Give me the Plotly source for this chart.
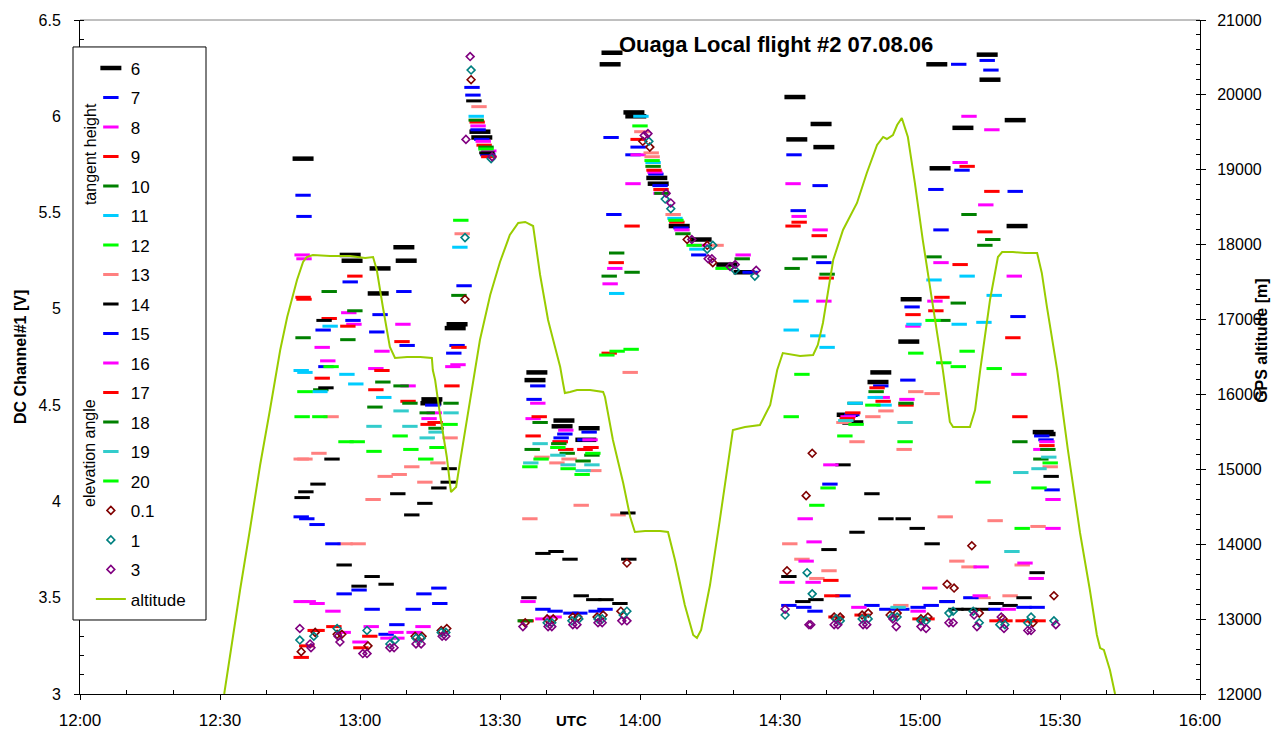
import plotly.graph_objects as go

# ---- time axis (minutes after 12:00 UTC) ----
tick_minutes = [0, 30, 60, 90, 120, 150, 180, 210, 240]
tick_labels = ["12:00", "12:30", "13:00", "13:30", "14:00", "14:30", "15:00", "15:30", "16:00"]

# ---- tangent height series (time [min after 12:00], DC Channel#1 [V]) ----
t_6 = [47.8, 57.9, 58.3, 63.9, 64.3, 69.4, 69.9, 75.2, 75.4, 80.4, 80.8, 85.7, 86.1, 97.5, 97.9, 103.3, 103.7, 108.4, 109.1, 113.6, 114.0, 118.7, 119.1, 123.6, 123.9, 128.4, 133.1, 138.6, 142.3, 153.2, 153.6, 158.8, 159.4, 164.4, 165.6, 171.0, 171.6, 177.6, 178.1, 183.6, 184.3, 189.2, 194.4, 195.0, 200.4, 200.8, 206.4, 206.8]
v_6 = [5.78, 5.28, 5.25, 5.08, 5.21, 5.32, 5.25, 4.51, 4.53, 4.90, 4.92, 5.92, 5.89, 4.63, 4.67, 4.39, 4.42, 4.32, 4.38, 6.27, 6.33, 6.02, 6.00, 5.68, 5.65, 5.43, 5.36, 5.23, 5.19, 6.10, 5.88, 5.96, 5.84, 4.45, 4.41, 4.62, 4.67, 4.83, 5.05, 6.27, 5.73, 5.94, 6.32, 6.19, 5.98, 5.43, 4.36, 4.35]

t_7 = [47.8, 48.0, 52.1, 52.7, 57.9, 58.5, 63.6, 64.3, 69.4, 70.1, 75.6, 80.1, 80.8, 82.3, 84.0, 84.2, 85.3, 86.1, 87.4, 97.3, 98.1, 113.8, 114.4, 118.5, 119.6, 123.4, 124.3, 128.8, 132.6, 143.6, 153.0, 153.9, 158.6, 159.4, 171.6, 177.4, 178.3, 183.4, 184.5, 188.3, 189.0, 194.4, 195.2, 200.4, 201.0]
v_7 = [5.59, 5.48, 4.89, 4.70, 5.14, 4.94, 4.88, 4.97, 5.09, 4.81, 4.50, 4.77, 4.81, 5.12, 6.15, 6.11, 5.93, 5.88, 5.80, 4.53, 4.60, 5.89, 5.49, 5.80, 5.84, 5.70, 5.64, 5.42, 5.28, 5.19, 5.80, 5.51, 5.64, 5.24, 4.60, 4.63, 5.01, 5.62, 5.41, 6.27, 5.72, 6.29, 6.24, 5.61, 4.96]

t_8 = [47.6, 48.0, 51.9, 53.1, 57.6, 58.7, 63.4, 64.7, 69.2, 70.3, 79.9, 81.0, 85.3, 86.4, 87.6, 98.1, 113.6, 114.6, 118.5, 119.6, 123.2, 124.5, 129.0, 132.9, 142.1, 152.8, 154.1, 158.6, 159.4, 171.9, 177.2, 178.5, 183.2, 184.5, 188.6, 190.5, 194.1, 195.4, 200.2, 201.2]
v_8 = [5.28, 5.26, 4.80, 4.73, 4.98, 4.92, 4.69, 4.78, 4.92, 4.60, 4.70, 4.71, 5.95, 5.87, 5.82, 4.51, 5.13, 5.21, 5.65, 5.80, 5.71, 5.60, 5.41, 5.33, 5.28, 5.65, 5.48, 5.41, 5.04, 4.54, 4.53, 4.91, 5.04, 5.24, 5.76, 6.00, 5.54, 5.93, 5.17, 4.66]

t_9 = [47.8, 48.0, 51.9, 53.4, 57.4, 58.9, 63.4, 64.7, 69.0, 70.3, 79.7, 81.2, 85.1, 86.6, 87.6, 113.4, 114.9, 118.3, 119.6, 123.0, 124.5, 127.9, 152.8, 154.1, 158.4, 159.9, 170.8, 172.1, 177.0, 178.5, 183.4, 184.7, 188.6, 190.1, 193.9, 195.4, 199.9]
v_9 = [5.06, 5.05, 4.64, 4.95, 4.91, 5.17, 4.58, 4.68, 4.83, 4.52, 4.60, 4.80, 5.97, 5.85, 5.79, 4.77, 5.24, 5.43, 5.88, 5.72, 5.62, 5.45, 5.43, 5.45, 5.38, 5.16, 4.59, 4.52, 4.50, 4.97, 4.99, 5.06, 5.23, 5.74, 5.40, 5.61, 4.85]

t_10 = [47.8, 51.6, 53.4, 57.4, 58.9, 64.9, 68.8, 70.7, 79.5, 81.2, 84.9, 87.0, 113.4, 115.0, 118.3, 122.8, 124.7, 129.2, 141.9, 152.6, 154.3, 158.4, 160.1, 166.1, 170.6, 177.0, 183.0, 184.9, 188.2, 190.5, 193.9, 195.6]
v_10 = [4.85, 4.58, 5.09, 4.84, 4.99, 4.62, 4.60, 4.51, 4.51, 5.07, 5.98, 5.84, 5.17, 5.29, 5.19, 5.74, 5.60, 5.39, 5.26, 5.21, 5.26, 5.27, 5.18, 4.51, 4.57, 4.51, 5.27, 4.94, 5.03, 5.49, 5.33, 5.36]

t_11 = [47.4, 48.2, 51.4, 53.6, 57.2, 59.1, 65.1, 81.4, 84.9, 115.0, 120.2, 122.8, 127.5, 132.2, 152.4, 154.5, 158.1, 160.1, 166.1, 170.4, 172.3, 178.7, 183.0, 188.4, 190.1, 193.7, 195.9]
v_11 = [4.68, 4.67, 4.57, 4.91, 4.66, 4.61, 4.54, 5.32, 6.00, 5.08, 6.00, 5.76, 5.47, 5.31, 4.89, 5.04, 4.86, 4.80, 4.51, 4.54, 4.50, 4.92, 5.15, 4.92, 5.17, 4.93, 5.07]

t_12 = [48.2, 53.8, 81.6, 87.0, 112.9, 115.1, 118.1, 120.0, 122.6, 127.7, 131.6, 137.8, 154.7, 169.9, 179.1, 182.8, 185.1, 188.2, 190.1, 195.9]
v_12 = [4.57, 4.70, 5.46, 5.83, 4.76, 4.78, 4.79, 5.95, 5.77, 5.46, 5.33, 5.21, 4.66, 4.50, 4.77, 4.94, 4.72, 4.70, 4.78, 4.69]

t_13 = [47.4, 48.2, 51.2, 53.8, 56.8, 59.6, 62.8, 65.4, 68.4, 71.1, 73.9, 76.7, 79.3, 81.9, 85.5, 96.4, 99.0, 102.2, 104.8, 107.4, 110.1, 115.3, 117.9, 120.4, 122.4, 122.6, 127.1, 136.3, 152.1, 154.7, 157.9, 160.5, 163.7, 166.5, 169.9, 172.7, 175.9, 176.6, 179.1, 182.6, 185.4, 187.9, 190.5, 193.5, 196.1, 199.3, 201.9, 205.3, 207.9]
v_13 = [4.22, 4.22, 4.25, 4.44, 3.78, 3.78, 4.01, 4.13, 4.14, 4.18, 4.10, 4.20, 4.33, 5.39, 6.05, 3.91, 4.23, 4.20, 4.22, 3.98, 4.16, 3.93, 4.67, 5.92, 5.81, 5.79, 5.49, 5.33, 3.78, 3.70, 3.60, 3.64, 4.41, 4.31, 4.44, 4.47, 3.46, 4.27, 4.57, 4.56, 3.92, 3.69, 3.66, 3.50, 3.90, 3.51, 3.67, 3.87, 4.18]

t_14 = [47.6, 48.4, 51.0, 52.3, 52.7, 54.0, 56.6, 59.8, 62.6, 65.6, 68.1, 71.1, 73.9, 76.9, 78.9, 79.1, 84.4, 87.2, 96.2, 99.2, 102.0, 105.0, 107.4, 110.1, 112.7, 115.7, 117.4, 117.6, 151.9, 154.9, 157.7, 160.5, 163.5, 166.5, 169.7, 172.7, 176.4, 179.4, 182.6, 185.8, 187.7, 190.5, 193.3, 196.3, 199.3, 202.3, 205.1, 208.1]
v_14 = [4.02, 4.05, 4.09, 4.94, 4.59, 4.22, 3.67, 3.56, 3.61, 3.57, 4.04, 3.93, 3.99, 4.07, 4.10, 4.17, 6.08, 5.81, 3.50, 3.73, 3.74, 3.70, 3.51, 3.49, 3.49, 3.47, 3.94, 3.70, 3.61, 3.48, 3.49, 3.75, 4.19, 3.84, 4.04, 3.91, 3.91, 3.86, 3.78, 3.48, 3.44, 3.44, 3.44, 3.47, 3.46, 3.50, 3.63, 4.13]

t_15 = [47.4, 48.6, 50.8, 54.2, 56.6, 59.8, 62.6, 65.6, 67.9, 71.4, 73.7, 76.9, 77.1, 99.2, 101.8, 103.1, 103.9, 105.2, 107.1, 108.2, 109.1, 110.6, 112.5, 151.9, 155.1, 157.5, 160.7, 163.5, 165.4, 169.7, 172.9, 176.1, 179.6, 182.4, 185.8, 190.9, 196.3, 202.3, 205.1, 206.1, 207.0, 208.3]
v_15 = [3.92, 3.91, 3.88, 3.78, 3.52, 3.54, 3.44, 3.31, 3.36, 3.44, 3.52, 3.55, 3.47, 3.44, 3.43, 4.33, 4.35, 3.42, 3.42, 4.32, 4.36, 3.43, 3.44, 3.46, 3.45, 3.43, 4.09, 3.51, 4.45, 3.46, 3.44, 3.44, 3.45, 3.46, 3.48, 3.50, 3.44, 3.45, 3.45, 4.34, 4.32, 4.06]

t_16 = [47.4, 48.9, 50.8, 54.2, 56.4, 60.0, 62.4, 66.0, 67.7, 67.9, 71.6, 73.5, 74.8, 75.9, 96.0, 97.1, 99.2, 101.6, 102.9, 104.1, 108.2, 109.3, 151.5, 155.4, 155.6, 157.1, 157.3, 160.9, 164.6, 166.9, 179.6, 182.1, 192.9, 193.1, 198.9, 202.5, 204.9, 205.9, 207.2, 208.5, 208.5]
v_16 = [3.48, 3.48, 3.47, 3.43, 3.32, 3.27, 3.35, 3.29, 3.32, 3.29, 3.32, 3.35, 4.43, 4.46, 3.48, 4.43, 3.39, 3.40, 4.31, 4.37, 4.27, 4.32, 3.58, 3.91, 3.69, 3.58, 3.79, 4.19, 4.44, 3.45, 3.43, 3.55, 3.51, 3.66, 3.44, 3.68, 3.60, 4.27, 4.31, 4.01, 3.86]

t_17 = [47.4, 48.6, 50.4, 50.8, 54.4, 60.2, 62.1, 74.6, 76.1, 95.6, 97.1, 98.4, 102.9, 104.1, 108.2, 109.5, 160.9, 161.1, 162.0, 164.4, 165.6, 167.6, 180.0, 181.5, 196.5, 198.2, 201.4, 202.1, 203.6, 205.3, 207.2]
v_17 = [3.19, 3.25, 3.33, 3.33, 3.35, 3.24, 3.30, 4.40, 4.41, 3.38, 4.34, 4.44, 4.31, 4.27, 4.27, 4.28, 3.59, 3.51, 3.40, 4.43, 4.46, 3.41, 3.39, 3.39, 3.38, 3.38, 4.44, 3.38, 3.38, 3.38, 4.29]

t_18 = [63.2, 74.4, 76.3, 95.4, 96.9, 98.6, 102.6, 104.4, 107.8, 109.7, 201.4, 205.9, 207.4]
v_18 = [4.49, 4.46, 4.38, 3.38, 4.27, 4.41, 4.30, 4.25, 4.21, 4.24, 4.31, 4.22, 4.27]

t_19 = [63.0, 68.8, 70.7, 74.4, 76.3, 79.5, 96.6, 98.6, 102.4, 104.6, 107.8, 109.7, 164.1, 175.3, 176.8, 199.7, 201.6, 205.5, 207.6]
v_19 = [4.39, 4.47, 4.39, 4.33, 4.36, 4.46, 4.20, 4.30, 4.24, 4.19, 4.16, 4.19, 4.42, 3.45, 4.41, 3.74, 4.15, 4.17, 4.23]

t_20 = [47.6, 51.4, 57.0, 59.4, 63.0, 68.6, 70.9, 74.1, 76.5, 79.3, 96.4, 98.8, 102.4, 104.6, 107.6, 109.9, 152.4, 157.9, 160.3, 163.9, 166.3, 176.8, 193.5, 201.9, 205.5, 207.9]
v_20 = [4.44, 4.44, 4.31, 4.31, 4.26, 4.34, 4.27, 4.22, 4.28, 4.40, 4.18, 4.22, 4.28, 4.17, 4.14, 4.25, 4.44, 3.98, 4.07, 4.34, 4.40, 4.31, 4.10, 3.86, 4.07, 4.20]

# ---- elevation angle series ----
t_01 = [47.4, 50.4, 55.1, 56.1, 61.7, 71.8, 73.3, 77.4, 78.6, 82.5, 83.8, 95.4, 100.1, 101.4, 105.6, 106.7, 110.8, 112.1, 115.9, 117.2, 120.6, 122.1, 130.1, 134.4, 135.6, 151.5, 155.6, 156.9, 161.6, 162.9, 167.6, 168.9, 173.6, 175.1, 180.2, 181.7, 185.8, 187.3, 191.1, 192.7, 197.8, 204.2, 208.7]
v_01 = [3.22, 3.32, 3.31, 3.31, 3.25, 3.30, 3.30, 3.33, 3.34, 5.05, 6.19, 3.37, 3.39, 3.39, 3.40, 3.40, 3.40, 3.41, 3.43, 3.68, 5.87, 5.84, 5.36, 5.33, 5.24, 3.64, 4.03, 4.25, 3.40, 3.40, 3.41, 3.42, 3.41, 3.42, 3.39, 3.40, 3.57, 3.55, 3.77, 3.42, 3.39, 3.37, 3.51]

t_1 = [47.1, 50.1, 55.1, 61.5, 66.4, 67.5, 72.0, 73.1, 77.4, 78.4, 82.5, 83.8, 88.1, 100.1, 101.1, 105.4, 106.9, 111.0, 111.9, 116.4, 117.2, 121.9, 125.4, 126.6, 134.4, 135.6, 140.4, 144.6, 151.1, 155.8, 156.9, 162.0, 162.9, 167.6, 168.9, 174.0, 175.1, 180.2, 181.3, 186.2, 187.1, 191.4, 192.7, 197.1, 198.2, 203.1, 203.8, 208.7]
v_1 = [3.28, 3.30, 3.34, 3.33, 3.26, 3.28, 3.29, 3.29, 3.32, 3.32, 5.37, 6.24, 5.78, 3.37, 3.37, 3.38, 3.39, 3.39, 3.39, 3.41, 3.43, 5.87, 5.57, 5.52, 5.31, 5.33, 5.20, 5.17, 3.41, 3.63, 3.52, 3.39, 3.38, 3.39, 3.39, 3.40, 3.40, 3.38, 3.38, 3.42, 3.43, 3.43, 3.37, 3.36, 3.36, 3.37, 3.40, 3.38]

t_3 = [47.1, 49.3, 49.5, 55.3, 55.7, 60.6, 61.5, 66.4, 67.3, 72.0, 73.1, 77.6, 78.4, 82.7, 83.6, 88.3, 94.9, 100.3, 101.1, 105.6, 106.5, 111.0, 111.9, 116.1, 117.2, 120.9, 121.7, 125.6, 126.6, 131.1, 134.6, 135.4, 139.3, 140.4, 144.9, 151.1, 156.2, 156.6, 161.6, 162.4, 167.8, 168.6, 174.2, 174.9, 180.2, 181.3, 186.2, 187.1, 191.6, 192.2, 197.4, 198.0, 203.1, 203.8, 209.1]
v_3 = [3.34, 3.26, 3.24, 3.30, 3.27, 3.21, 3.21, 3.24, 3.24, 3.26, 3.26, 3.30, 3.30, 5.88, 6.31, 5.79, 3.35, 3.35, 3.35, 3.36, 3.36, 3.37, 3.37, 3.38, 3.38, 5.90, 5.91, 5.60, 5.55, 5.36, 5.26, 5.26, 5.22, 5.23, 5.20, 3.44, 3.36, 3.36, 3.36, 3.36, 3.36, 3.36, 3.39, 3.35, 3.35, 3.34, 3.37, 3.37, 3.41, 3.35, 3.40, 3.34, 3.33, 3.33, 3.36]

# ---- GPS altitude [m] ----
t_alt = [30.9, 32.6, 34.3, 36.4, 38.6, 40.7, 42.9, 44.4, 46.5, 47.8,
         48.6, 49.9, 53.6, 57.9, 61.1, 62.8, 63.6, 64.9, 66.4, 67.5,
         70.1, 72.9, 75.4, 75.6, 76.1, 77.1, 78.6, 79.5, 80.6, 81.4,
         82.9, 84.2, 85.7, 87.9, 90.0, 92.1, 93.9, 95.4, 96.4, 97.1,
         98.6, 100.3, 101.4, 102.9, 103.5, 103.9, 105.0, 106.5, 109.3, 112.1,
         112.5, 114.2, 116.4, 117.9, 118.9, 121.1, 124.3, 126.0, 127.5, 129.6,
         131.4, 132.2, 133.1, 135.0, 137.1, 138.9, 139.9, 142.5, 145.7, 147.9,
         149.4, 150.6, 154.3, 157.1, 158.1, 159.2, 161.4, 163.5, 166.5, 168.6,
         170.8, 172.1, 172.9, 174.2, 175.1, 176.1, 177.4, 178.9, 180.6, 182.8,
         184.9, 186.4, 187.1, 190.7, 191.8, 192.9, 195.0, 196.7, 197.6, 199.9,
         202.5, 205.1, 206.1, 207.2, 209.4, 211.7, 214.3, 216.4, 217.9, 218.6,
         219.4, 220.7, 221.8]
alt = [12000, 12721, 13389, 14190, 15058, 15792, 16593, 17034, 17528, 17769,
       17835, 17862, 17849, 17849, 17822, 17835, 17662, 17168, 16634, 16487,
       16500, 16500, 16487, 16326, 16193, 15752, 15165, 14697, 14764, 15085,
       15659, 16193, 16727, 17328, 17769, 18129, 18289, 18303, 18276, 18249,
       17595, 16994, 16727, 16366, 16153, 16019, 16033, 16059, 16059, 16033,
       15966, 15392, 14817, 14364, 14163, 14177, 14177, 14163, 13789, 13188,
       12788, 12748, 12855, 13455, 14323, 15125, 15525, 15565, 15592, 15859,
       16326, 16553, 16513, 16527, 16660, 16954, 17795, 18196, 18557, 18957,
       19331, 19438, 19411, 19464, 19598, 19691, 19438, 18824, 18062, 17168,
       16326, 15632, 15565, 15565, 15792, 16326, 17261, 17835, 17902, 17902,
       17889, 17889, 17622, 17168, 16326, 15258, 14150, 13389, 12788, 12614,
       12588, 12320, 12000]

tangent = [
    ("6", t_6, v_6, "#000000"), ("7", t_7, v_7, "#0000FF"), ("8", t_8, v_8, "#FF00FF"),
    ("9", t_9, v_9, "#FF0000"), ("10", t_10, v_10, "#008000"), ("11", t_11, v_11, "#00CCFF"),
    ("12", t_12, v_12, "#00FF00"), ("13", t_13, v_13, "#FF8080"), ("14", t_14, v_14, "#000000"),
    ("15", t_15, v_15, "#0000FF"), ("16", t_16, v_16, "#FF00FF"), ("17", t_17, v_17, "#FF0000"),
    ("18", t_18, v_18, "#008000"), ("19", t_19, v_19, "#33CCCC"), ("20", t_20, v_20, "#00FF00"),
]
elevation = [
    ("0.1", t_01, v_01, "#800000"), ("1", t_1, v_1, "#008080"), ("3", t_3, v_3, "#800080"),
]

FONT = "Liberation Sans, Arial, sans-serif"
fig = go.Figure()

for name, t, v, col in tangent:
    big = name == "6"
    fig.add_trace(go.Scatter(
        x=t, y=v, mode="markers", name=name, legendgroup=name,
        marker=dict(symbol="line-ew", size=15 if big else 11, color=col,
                    line=dict(color=col, width=4.5 if big else 3)),
    ))
for name, t, v, col in elevation:
    fig.add_trace(go.Scatter(
        x=t, y=v, mode="markers", name=name, legendgroup=name,
        marker=dict(symbol="diamond-open", size=6, color=col, line=dict(color=col, width=1.6)),
    ))
fig.add_trace(go.Scatter(
    x=t_alt, y=alt, mode="lines", name="altitude", legendgroup="altitude", yaxis="y2",
    line=dict(color="#99CC00", width=2),
))

minor_x = [m for m in range(0, 241, 10) if m % 30 != 0]

fig.update_layout(
    width=1271, height=723,
    margin=dict(l=72, r=79, t=12, b=37, autoexpand=False),
    paper_bgcolor="white", plot_bgcolor="white",
    font=dict(family=FONT, size=16, color="black"),
    xaxis=dict(range=[0, 240], tickmode="array", tickvals=tick_minutes, ticktext=tick_labels,
               showline=True, linecolor="black", linewidth=1, ticks="outside", ticklen=5,
               tickcolor="black", showgrid=False, zeroline=False, ticklabelstandoff=6,
               automargin=False,
               minor=dict(tickmode="array", tickvals=minor_x, ticks="inside", ticklen=4,
                          tickcolor="black"),
               tickfont=dict(family=FONT, size=17)),
    yaxis=dict(range=[3, 6.5], dtick=0.5, tick0=3, showline=True, linecolor="black", linewidth=1,
               ticks="outside", ticklen=5, tickcolor="black", showgrid=False, zeroline=False,
               ticklabelstandoff=10, automargin=False,
               minor=dict(dtick=0.1, ticks="inside", ticklen=4, tickcolor="black"),
               tickfont=dict(family=FONT, size=16)),
    yaxis2=dict(range=[12000, 21000], dtick=1000, tick0=12000, overlaying="y", side="right",
                tickformat="d", showline=True, linecolor="black", linewidth=1,
                ticks="outside", ticklen=5, tickcolor="black", showgrid=False, zeroline=False,
                ticklabelstandoff=8, automargin=False,
                minor=dict(dtick=200, ticks="inside", ticklen=4, tickcolor="black"),
                tickfont=dict(family=FONT, size=16)),
    showlegend=True,
    legend=dict(x=0.0097, y=0.955, xanchor="left", yanchor="top", bgcolor="rgba(0,0,0,0)",
                borderwidth=0, font=dict(family=FONT, size=17), traceorder="grouped",
                tracegroupgap=4.4),
    shapes=[
        dict(type="line", xref="paper", yref="paper", x0=0, x1=1, y0=1, y1=1,
             line=dict(color="#808080", width=1), layer="below"),
        dict(type="rect", xref="paper", yref="paper", x0=-0.00625, x1=0.1125,
             y0=0.1098, y1=0.96, fillcolor="white", line=dict(color="black", width=1),
             layer="above"),
    ],
    annotations=[
        dict(text="<b>Ouaga Local flight #2 07.08.06</b>", xref="paper", yref="paper",
             x=0.621, y=0.963, xanchor="center", yanchor="middle", showarrow=False,
             font=dict(family=FONT, size=22)),
        dict(text="<b>DC Channel#1 [V]</b>", xref="paper", yref="paper", x=-0.0536, y=0.5,
             xanchor="center", yanchor="middle", textangle=-90, showarrow=False,
             font=dict(family=FONT, size=16)),
        dict(text="<b>GPS altitude [m]</b>", xref="paper", yref="paper", x=1.0554, y=0.524,
             xanchor="center", yanchor="middle", textangle=-90, showarrow=False,
             font=dict(family=FONT, size=16)),
        dict(text="<b>UTC</b>", xref="paper", yref="paper", x=0.439, y=-0.0386,
             xanchor="center", yanchor="middle", showarrow=False, font=dict(family=FONT, size=15)),
        dict(text="tangent height", xref="paper", yref="paper", x=0.0089, y=0.801,
             xanchor="center", yanchor="middle", textangle=-90, showarrow=False,
             font=dict(family=FONT, size=16)),
        dict(text="elevation angle", xref="paper", yref="paper", x=0.0089, y=0.3576,
             xanchor="center", yanchor="middle", textangle=-90, showarrow=False,
             font=dict(family=FONT, size=16)),
    ],
)

fig.write_html("out.html")
